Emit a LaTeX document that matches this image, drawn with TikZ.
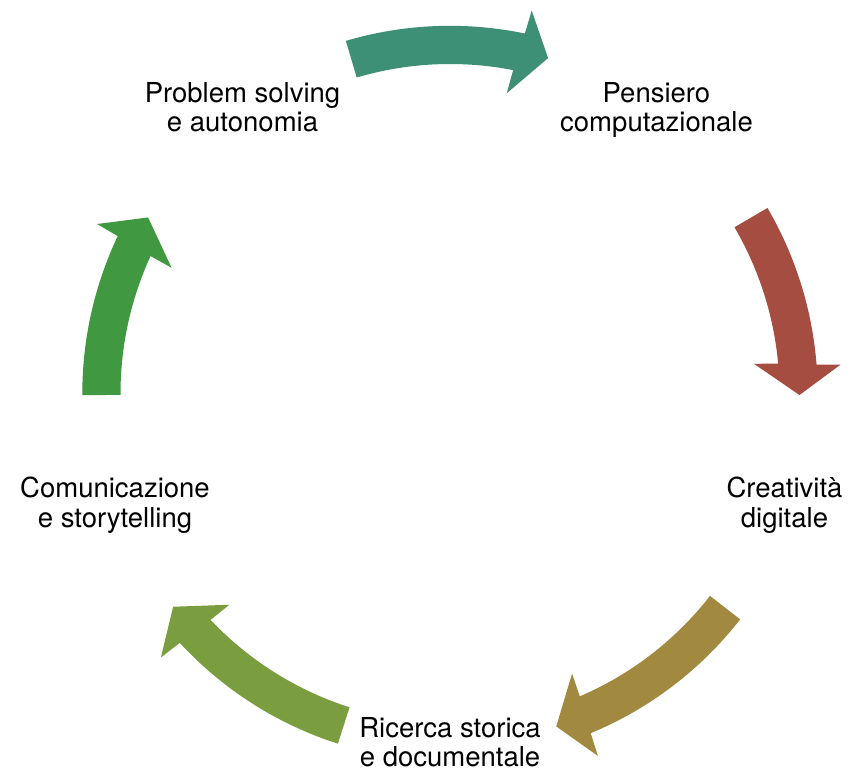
\documentclass[tikz,border=0pt]{standalone}
\usepackage{fontspec}
\setmainfont{TeX Gyre Heros}
\definecolor{cTeal}{HTML}{3D8F76}
\definecolor{cRed}{HTML}{A64D42}
\definecolor{cOlive}{HTML}{A18940}
\definecolor{cYGreen}{HTML}{7A9D3F}
\definecolor{cGreen}{HTML}{409840}
% #1 tail angle, #2 junction angle, #3 tip angle, #4 colour
\newcommand\cyclearrow[4]{%
  \fill[#4] (#1:367.7) arc[start angle=#1, end angle=#2-0.35, radius=367.7]
    -- ({#2-0.65}:391.5) -- (#3:349.5) -- ({#2+0.7}:305.5)
    -- ({#2+0.35}:329.5) arc[start angle=#2+0.35, end angle=#1, radius=329.5]
    -- cycle;}
\begin{document}
\begin{tikzpicture}[x=1pt,y=1pt,
  lbl/.style={align=center, font=\fontsize{27.5}{29.5}\selectfont, inner sep=0pt, text=black}]
\useasboundingbox (0,0) rectangle (851,774);
\fill[white] (0,0) rectangle (851,774);
\begin{scope}[shift={(450,380.5)}]
  \cyclearrow{106.45}{78.6}{73.7}{cTeal}
  \cyclearrow{30.3}{4.87}{-0.25}{cRed}
  \cyclearrow{-37.9}{-67.15}{-72.3}{cOlive}
  \cyclearrow{-107.75}{-136.95}{-142.4}{cYGreen}
  \cyclearrow{180.25}{155.0}{149.75}{cGreen}
\end{scope}
\node[lbl] (pens) at (656.5,663.8) {Pensiero\\computazionale};
\node[lbl] (crea) at (784.5,268.8) {Creatività\\digitale};
\node[lbl] (ric) at (450,31.8) {Ricerca storica\\e documentale};
\node[lbl] (com) at (115,268.8) {Comunicazione\\e storytelling};
\node[lbl] (prob) at (242.5,666.6) {Problem solving\\e autonomia};
\end{tikzpicture}
\end{document}
